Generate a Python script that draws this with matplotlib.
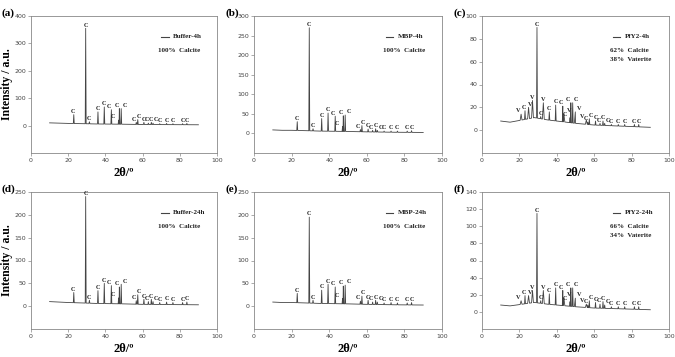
import numpy as np
import matplotlib
matplotlib.use("Agg")
import matplotlib.pyplot as plt

# positions des pics (2theta) de la calcite et de la vaterite
calcite = [23.0, 29.4, 31.4, 36.0, 39.4, 43.2, 47.1, 47.5, 48.5, 56.6, 57.4,
           60.7, 63.1, 64.7, 65.6, 69.2, 72.9, 76.3, 81.5, 83.8]
vaterite = [20.9, 24.9, 27.0, 32.8, 43.8, 49.9, 55.8]

# sommets des pics calcite, un tableau par echantillon
top_a = [40, 355, 14, 50, 68, 58, 20, 62, 62, 12, 22, 12, 9, 12, 9, 7, 8, 7, 7, 8]
top_b = [30, 270, 12, 38, 52, 44, 18, 45, 47, 10, 20, 11, 8, 12, 8, 6, 6, 6, 6, 7]
top_c = [17, 90, 12, 16, 22, 21, 11, 24, 24, 7, 10, 8, 6, 8, 6, 5, 5, 5, 5, 5]
top_d = [30, 240, 13, 34, 50, 45, 18, 42, 48, 12, 25, 15, 10, 15, 10, 8, 9, 8, 8, 9]
top_e = [28, 195, 13, 35, 48, 42, 17, 44, 46, 11, 22, 13, 9, 13, 9, 7, 8, 7, 7, 8]
top_f = [19, 115, 13, 21, 28, 25, 12, 28, 28, 8, 13, 11, 9, 12, 8, 6, 6, 6, 6, 6]

# sommets des pics vaterite (seulement PfY2)
vtop_c = [14, 20, 26, 24, 14, 16, 9]
vtop_f = [13, 19, 25, 25, 16, 16, 9]

# lignes de base
base_x = [10, 15, 20, 28, 35, 50, 60, 75, 90]
base_buf = [10, 9, 8, 7, 6, 5, 4, 3.5, 3]
base_mbp = [9, 8, 8, 7, 6, 5, 4, 3, 2.5]
base_pfy = [8, 7, 8.5, 11, 9, 6, 4.5, 3.5, 2.5]

names = ["Buffer-4h", "MBP-4h", "PfY2-4h", "Buffer-24h", "MBP-24h", "PfY2-24h"]
phases = [["100%  Calcite"], ["100%  Calcite"], ["62%  Calcite", "38%  Vaterite"],
          ["100%  Calcite"], ["100%  Calcite"], ["66%  Calcite", "34%  Vaterite"]]
tops = [top_a, top_b, top_c, top_d, top_e, top_f]
vtops = [None, None, vtop_c, None, None, vtop_f]
bases = [base_buf, base_mbp, base_pfy, base_buf, base_mbp, base_pfy]
ylims = [(-100, 400), (-50, 300), (-20, 100), (-50, 250), (-50, 250), (-20, 140)]
ysteps = [100, 50, 20, 50, 50, 20]
letters = ["(a)", "(b)", "(c)", "(d)", "(e)", "(f)"]

# decalage horizontal (points) des lettres trop serrees
decal = {47.1: -4, 47.5: -2, 48.5: 2.5, 56.6: -1.5, 57.4: 1, 63.1: -1,
         65.6: 2.5, 49.9: 2.5, 43.8: 3.5, 43.2: -1.5, 23.0: -0.5, 24.9: 1,
         55.8: -3, 20.9: -2}


def spectre(base, pics):
    # pics : liste (position, sommet, demi-largeur)
    xs = list(base_x)
    ys = list(base)
    for p, h, w in pics:
        b1 = np.interp(p - w, base_x, base)
        b2 = np.interp(p + w, base_x, base)
        xs += [p - w, p, p + w]
        ys += [b1, h, b2]
    ordre = np.argsort(xs, kind="stable")
    return np.array(xs)[ordre], np.array(ys)[ordre]


serif = "Liberation Serif"
fig = plt.figure(figsize=(6.75, 3.57), dpi=100)

lefts = [31, 254, 482]
widths = [186, 188, 187]
tops_px = [16, 192]
for i in range(6):
    row, col = i // 3, i % 3
    ax = fig.add_axes([lefts[col] / 675, (357 - tops_px[row] - 137) / 357,
                       widths[col] / 675, 137 / 357])
    pics = [(p, h, 0.25) for p, h in zip(calcite, tops[i])]
    if vtops[i] is not None:
        pics += [(p, h, 0.5) for p, h in zip(vaterite, vtops[i])]
    x, y = spectre(bases[i], pics)
    ax.plot(x, y, color="#444444", lw=0.6)

    lab = [(p, h, "C") for p, h in zip(calcite, tops[i])]
    if vtops[i] is not None:
        lab += [(p, h, "V") for p, h in zip(vaterite, vtops[i])]
    for p, h, t in lab:
        ax.annotate(t, (p, h), xytext=(decal.get(p, 0), 0.5),
                    textcoords="offset points", ha="center", va="bottom",
                    fontsize=4.5, family=serif, fontweight="bold",
                    color="#222222")

    ax.set_xlim(0, 100)
    ax.set_ylim(*ylims[i])
    ax.set_xticks(range(0, 101, 20))
    ax.set_yticks(range(0, ylims[i][1] + 1, ysteps[i]))
    ax.tick_params(labelsize=4.5, labelcolor="#444444", length=2, width=0.5,
                   color="#888888", pad=1.5)
    for s in ax.spines.values():
        s.set_linewidth(0.6)
        s.set_color("#888888")

    # petite legende
    yl = 0.847 * (ylims[i][1] - ylims[i][0]) + ylims[i][0]
    ax.plot([70, 74], [yl, yl], color="#444444", lw=0.8)
    ax.text(0.765, 0.847, names[i], transform=ax.transAxes, fontsize=5,
            family=serif, fontweight="bold", va="center", color="#222222")
    for k, t in enumerate(phases[i]):
        ax.text(0.685, 0.75 - 0.07 * k, t, transform=ax.transAxes, fontsize=5,
                family=serif, fontweight="bold", va="center", color="#222222")

    ax.set_xlabel("2θ/º", fontsize=9, family=serif, fontweight="bold", labelpad=3)
    if col == 0:
        ax.set_ylabel("Intensity / a.u.", fontsize=8.5, family=serif,
                      fontweight="bold")
        ax.yaxis.set_label_coords(-0.097, 0.5)

    fig.text((lefts[col] - 29) / 675, 1 - (tops_px[row] - 3) / 357, letters[i],
             fontsize=8, family=serif, fontweight="bold", va="center")

fig.savefig("out.png", dpi=100)
